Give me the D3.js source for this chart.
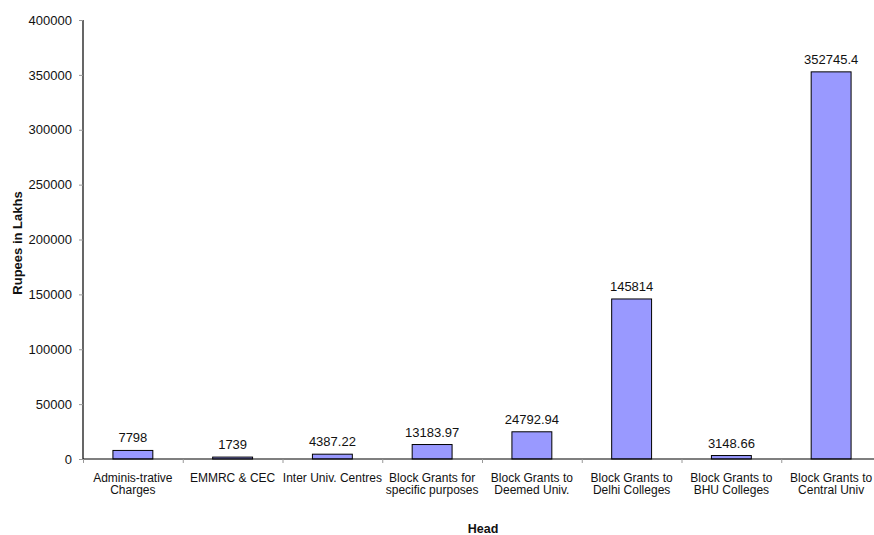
<!DOCTYPE html>
<html><head><meta charset="utf-8">
<script src="https://cdn.jsdelivr.net/npm/d3@7"></script>
<style>body{margin:0;background:#fff}svg{display:block;font-family:"Liberation Sans",Arial,sans-serif}</style>
</head><body><svg id="c" width="874" height="535"></svg>
<script>
const categories = [["Adminis-trative","Charges"],["EMMRC & CEC"],["Inter Univ. Centres"],["Block Grants for","specific purposes"],["Block Grants to","Deemed Univ."],["Block Grants to","Delhi Colleges"],["Block Grants to","BHU Colleges"],["Block Grants to","Central Univ"]];
const values = [7798, 1739, 4387.22, 13183.97, 24792.94, 145814, 3148.66, 352745.4];
const valueLabels = ["7798","1739","4387.22","13183.97","24792.94","145814","3148.66","352745.4"];
const yTicks = [0,50000,100000,150000,200000,250000,300000,350000,400000];

const svg = d3.select("#c");
const x0 = 83, bw = 99.75, y0 = 459, yTop = 20;
const x = d3.scaleBand().domain(d3.range(values.length)).range([x0, x0 + bw*values.length]).paddingInner(0.6).paddingOuter(0.3);
const xb = d3.scaleLinear().domain([0, values.length]).range([x0, x0 + bw*values.length]);
const y = d3.scaleLinear().domain([0,400000]).range([y0, yTop]);

// y axis
const ya = svg.append("g").attr("transform",`translate(${x0},0)`)
  .call(d3.axisLeft(y).tickValues(yTicks).tickSize(4).tickPadding(7).tickFormat(d3.format("d")));
ya.select(".domain").attr("stroke","#000").attr("stroke-width",1.2).attr("d",`M0,${y0}V${yTop}`);
ya.selectAll(".tick line").attr("stroke","#999");
ya.selectAll("text").attr("font-size",13).attr("fill","#111").attr("font-family","Liberation Sans, Arial");

// bars
svg.append("g").selectAll("rect").data(values).join("rect")
  .attr("x",(d,i)=>x(i)).attr("width",x.bandwidth())
  .attr("y",d=>y(d)).attr("height",d=>y0-y(d))
  .attr("fill","#9999FF").attr("stroke","#000").attr("stroke-width",1);

// x axis
const xa = svg.append("g").attr("transform",`translate(0,${y0})`)
  .call(d3.axisBottom(xb).tickValues(d3.range(values.length+1)).tickSize(4).tickFormat(""));
xa.select(".domain").attr("stroke","#000").attr("stroke-width",1.2).attr("d",`M${x0},0H874`);
xa.selectAll(".tick line").attr("stroke","#999");

// value labels
svg.append("g").selectAll("text").data(values).join("text")
  .attr("x",(d,i)=>x(i)+x.bandwidth()/2).attr("y",d=>y(d)-8)
  .attr("text-anchor","middle").attr("font-size",13).attr("fill","#111")
  .text((d,i)=>valueLabels[i]);

// category labels
const cl = svg.append("g").selectAll("text").data(categories).join("text")
  .attr("x",(d,i)=>x(i)+x.bandwidth()/2).attr("y",482)
  .attr("text-anchor","middle").attr("font-size",12).attr("fill","#111");
cl.selectAll("tspan").data(d=>d).join("tspan")
  .attr("x",function(){return this.parentNode.getAttribute("x");})
  .attr("dy",(d,i)=>i===0?0:12.4).text(d=>d);

// axis titles
svg.append("text").attr("x",483).attr("y",533).attr("text-anchor","middle")
  .attr("font-size",12.5).attr("font-weight","bold").attr("fill","#111").text("Head");
svg.append("text").attr("transform","translate(22,243) rotate(-90)").attr("text-anchor","middle")
  .attr("font-size",13).attr("font-weight","bold").attr("fill","#111").text("Rupees in Lakhs");
</script></body></html>
